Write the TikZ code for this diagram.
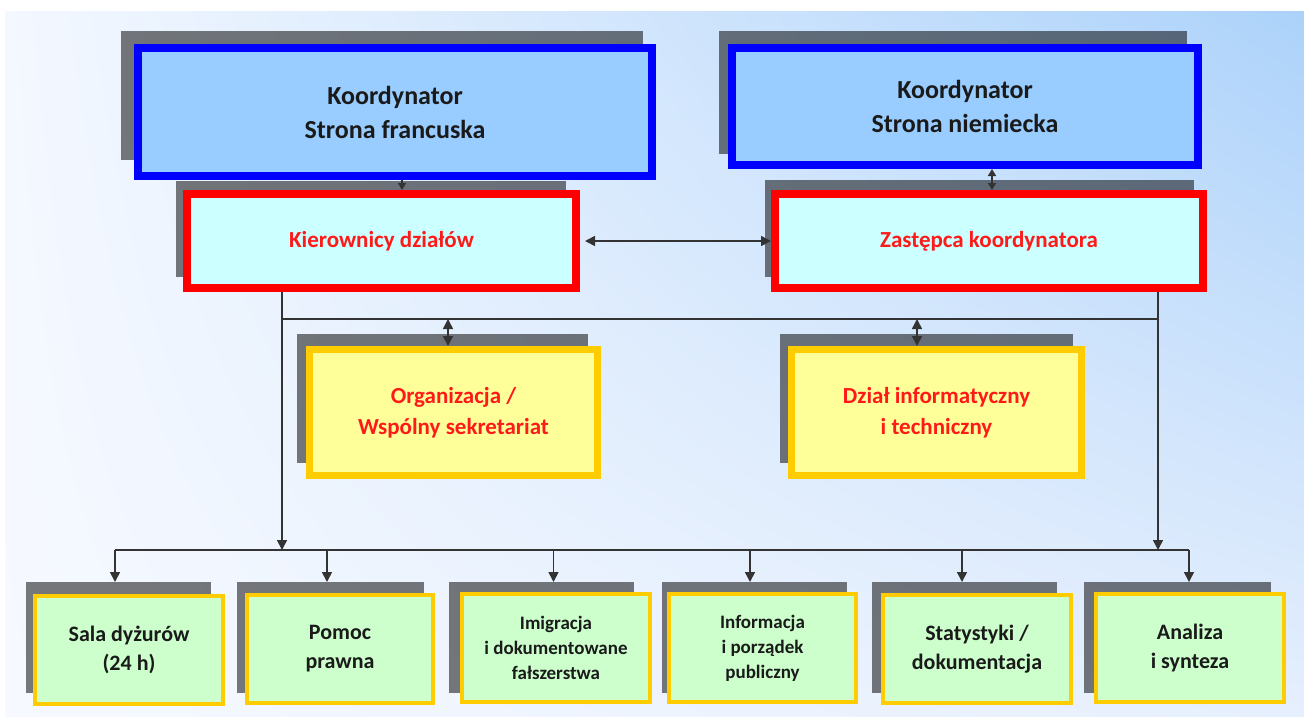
\documentclass[tikz,border=0pt]{standalone}
\usepackage{fontspec}
\setmainfont{Carlito}
\usetikzlibrary{arrows.meta,calc,shadings}
\definecolor{bluebd}{HTML}{0000FF}
\definecolor{bluefill}{HTML}{99CCFF}
\definecolor{redbd}{HTML}{FF0000}
\definecolor{cyanfill}{HTML}{CCFFFF}
\definecolor{yelbd}{HTML}{FFCC00}
\definecolor{yelfill}{HTML}{FFFF99}
\definecolor{greenfill}{HTML}{CCFFCC}
\definecolor{linecol}{HTML}{333333}
\definecolor{txtcol}{HTML}{1A1A1A}
\definecolor{redtxt}{HTML}{FF1A1A}
\definecolor{bgUL}{HTML}{F4F8FF}
\definecolor{bgUR}{HTML}{ACD2FA}
\definecolor{bgLL}{HTML}{F6F9FF}
\definecolor{bgLR}{HTML}{E6EFFD}
\begin{document}
\begin{tikzpicture}[x=1pt,y=-1pt,
  shadowbox/.style={rectangle,fill=black,fill opacity=0.52,draw=none,inner sep=0pt,outer sep=0pt},
  topbox/.style={rectangle,draw=bluebd,fill=bluefill,line width=8pt,align=center,text=txtcol,
     font=\fontsize{26}{34}\selectfont\bfseries},
  redbox/.style={rectangle,draw=redbd,fill=cyanfill,line width=8pt,align=center,text=redtxt,
     font=\fontsize{23}{30}\selectfont\bfseries},
  yelbox/.style={rectangle,draw=yelbd,fill=yelfill,line width=7pt,align=center,text=redtxt,
     font=\fontsize{23}{31}\selectfont\bfseries},
  grnbox/.style={rectangle,draw=yelbd,fill=greenfill,line width=4pt,align=center,text=txtcol,
     minimum height=108pt,font=\fontsize{22}{29}\selectfont\bfseries},
  grnsmall/.style={grnbox,font=\fontsize{19}{25}\selectfont\bfseries},
  conn/.style={draw=linecol,line width=1.6pt},
  arr/.style={conn,-{Triangle[length=10pt,width=10pt]}},
  darr/.style={conn,{Triangle[length=10pt,width=10pt]}-{Triangle[length=10pt,width=10pt]}},
  sarr/.style={conn,-{Triangle[length=7pt,width=8pt]}},
  sdarr/.style={conn,{Triangle[length=7pt,width=8pt]}-{Triangle[length=7pt,width=8pt]}}
]
\useasboundingbox (0,0) rectangle (1304,716);
\fill[white] (0,0) rectangle (1304,716);
\shade[upper left=bgUL,upper right=bgUR,lower left=bgLL,lower right=bgLR] (5,11) rectangle (1304,716);

% shadows
\node[shadowbox,minimum width=522pt,minimum height=129pt] (s1) at (382,95.5) {};
\node[shadowbox,minimum width=468pt,minimum height=123pt] (s2) at (953,92.5) {};
\node[shadowbox,minimum width=390pt,minimum height=96pt] (sk) at (371,229) {};
\node[shadowbox,minimum width=429pt,minimum height=97pt] (sz) at (979.5,228.5) {};
\node[shadowbox,minimum width=291pt,minimum height=129pt] (so) at (442.5,398.5) {};
\node[shadowbox,minimum width=293pt,minimum height=129pt] (sd) at (926.5,398.5) {};
\node[shadowbox,minimum width=185pt,minimum height=111pt] (sb1) at (118.5,637.5) {};
\node[shadowbox,minimum width=187pt,minimum height=111pt] (sb2) at (330.5,637.5) {};
\node[shadowbox,minimum width=185pt,minimum height=111pt] (sb3) at (541.5,637.5) {};
\node[shadowbox,minimum width=185pt,minimum height=111pt] (sb4) at (754.5,637.5) {};
\node[shadowbox,minimum width=185pt,minimum height=111pt] (sb5) at (964.5,637.5) {};
\node[shadowbox,minimum width=187pt,minimum height=111pt] (sb6) at (1177.5,637.5) {};

% main boxes
\node[topbox,minimum width=514pt,minimum height=128pt] (k1) at (395,112) {Koordynator\\Strona francuska};
\node[topbox,minimum width=466pt,minimum height=117pt] (k2) at (965,106.5) {Koordynator\\Strona niemiecka};
\node[redbox,minimum width=389pt,minimum height=94pt] (kier) at (381.5,241) {Kierownicy działów};
\node[redbox,minimum width=428pt,minimum height=94pt] (zast) at (989,241) {Zastępca koordynatora};
\node[yelbox,minimum width=288pt,minimum height=126pt] (org) at (453.5,412.5) {Organizacja /\\Wspólny sekretariat};
\node[yelbox,minimum width=290pt,minimum height=126pt] (dzial) at (936.5,412.5) {Dział informatyczny\\i techniczny};

\node[grnbox,minimum width=188pt] (b1) at (129,650) {Sala dyżurów\\(24 h)};
\node[grnbox,minimum width=186pt] (b2) at (340,649) {Pomoc\\prawna};
\node[grnsmall,minimum width=188pt] (b3) at (556,648) {Imigracja\\i dokumentowane\\fałszerstwa};
\node[grnsmall,minimum width=187pt] (b4) at (762.5,648) {Informacja\\i porządek\\publiczny};
\node[grnbox,minimum width=188pt] (b5) at (977,649) {Statystyki /\\dokumentacja};
\node[grnbox,minimum width=188pt] (b6) at (1190,648) {Analiza\\i synteza};

% bus coordinates
\coordinate (tl) at (282,319);
\coordinate (tr) at (1158,319);
\coordinate (bl) at (115,550);
\coordinate (br) at (1189,550);
\coordinate (dl) at (282,550);
\coordinate (dr) at (1158,550);

% connectors
\draw[sarr] ([xshift=7pt]k1.south) -- ([xshift=7pt]k1.south |- kier.north);
\draw[sdarr] ([xshift=27pt]k2.south) -- ([xshift=27pt]k2.south |- zast.north);
\draw[darr] ([xshift=5pt]kier.east) -- (zast.west);
\draw[arr] (kier.south -| tl) -- (dl);
\draw[arr] (zast.south -| tr) -- (dr);
\draw[conn] (tl) -- (tr);
\draw[darr] ([xshift=-5.5pt]org.north |- tl) -- ([xshift=-5.5pt]org.north);
\draw[darr] ([xshift=-19.5pt]dzial.north |- tr) -- ([xshift=-19.5pt]dzial.north);
\draw[conn] (bl) -- (br);
\draw[arr] (bl) -- (bl |- sb1.north);
\draw[arr] ([xshift=-3.5pt]sb2.north |- bl) -- ([xshift=-3.5pt]sb2.north);
\draw[arr] ([xshift=12pt]sb3.north |- bl) -- ([xshift=12pt]sb3.north);
\draw[arr] ([xshift=-4.5pt]sb4.north |- bl) -- ([xshift=-4.5pt]sb4.north);
\draw[arr] ([xshift=-2.5pt]sb5.north |- bl) -- ([xshift=-2.5pt]sb5.north);
\draw[arr] (br) -- (br |- sb6.north);
\end{tikzpicture}
\end{document}
